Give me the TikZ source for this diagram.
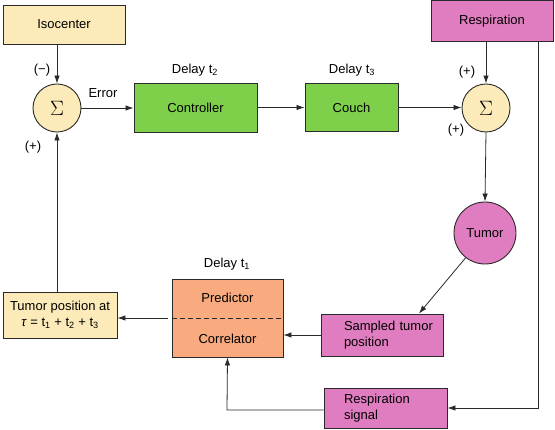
\documentclass[tikz,border=0pt]{standalone}
\usepackage{fontspec}
\setmainfont{Liberation Sans}
\usetikzlibrary{arrows.meta,calc}
\definecolor{cyel}{HTML}{FCEBB8}
\definecolor{cgreen}{HTML}{7ED04B}
\definecolor{cpink}{HTML}{E07DC0}
\definecolor{corange}{HTML}{F9AA7E}
\definecolor{cline}{HTML}{2A2A2A}
\tikzset{
  box/.style={draw=cline, line width=0.9pt, inner sep=0pt, font=\fontsize{13}{15.5}\selectfont},
  sumnode/.style={circle, draw=cline, line width=0.9pt, fill=cyel, minimum size=48pt, inner sep=0pt, font=\fontsize{20}{22}\selectfont},
  lbl/.style={inner sep=0pt, font=\fontsize{13}{15.5}\selectfont},
  conn/.style={draw=cline, line width=0.8pt},
  arr/.style={conn, -{Latex[length=8pt,width=5.5pt]}},
}
\begin{document}
\begin{tikzpicture}[x=1pt,y=-1pt]
\useasboundingbox (0,0) rectangle (555,430);
\fill[white] (0,0) rectangle (555,430);

\node[box, fill=cyel, minimum width=122pt, minimum height=39pt] (iso) at (64,24.5) {Isocenter};
\node[sumnode] (s1) at (57,108) {$\Sigma$};
\node[box, fill=cgreen, minimum width=123pt, minimum height=49pt] (ctrl) at (195.5,107.5) {Controller};
\node[box, fill=cgreen, minimum width=93pt, minimum height=48pt] (couch) at (351.5,107.5) {Couch};
\node[sumnode] (s2) at (486,108) {$\Sigma$};
\node[box, fill=cpink, minimum width=122pt, minimum height=41pt] (resp) at (492,21) {Respiration};
\node[box, circle, fill=cpink, minimum size=62pt] (tumor) at (485,233) {Tumor};
\node[box, fill=cpink, text width=122pt, minimum height=42pt, align=left] (samp) at (382,335)
  {\hspace*{23pt}Sampled tumor\\\hspace*{23pt}position};
\node[box, fill=cpink, text width=123pt, minimum height=40pt, align=left] (rsig) at (385.5,408)
  {\hspace*{20pt}Respiration\\\hspace*{20pt}signal};
\node[box, fill=corange, minimum width=111pt, minimum height=78pt] (pc) at (227.5,318) {};
\node[lbl] (pred) at (227.5,298) {Predictor};
\node[lbl] (corr) at (227.5,339) {Correlator};
\draw[cline, line width=0.8pt, dashed, dash pattern=on 5pt off 3pt] (pc.west) -- (pc.east);
\node[box, fill=cyel, minimum width=114pt, minimum height=46pt, align=center] (tpos) at (60,315)
  {Tumor position at\\\textit{τ} = t\textsubscript{1} + t\textsubscript{2} + t\textsubscript{3}};

% labels
\node[lbl] (lm) at (42,70) {(−)};
\node[lbl] (lp1) at (33,147) {(+)};
\node[lbl] (lerr) at (103,93) {Error};
\node[lbl] (ld2) at (195,70) {Delay t\textsubscript{2}};
\node[lbl] (ld3) at (352,70) {Delay t\textsubscript{3}};
\node[lbl] (lp2) at (467,72) {(+)};
\node[lbl] (lp3) at (456,130) {(+)};
\node[lbl] (ld1) at (227,264) {Delay t\textsubscript{1}};

% connectors
\coordinate (rc1) at (538,408);
\coordinate (rc2) at (227,410);
\draw[arr] (iso.south -| s1.north) -- (s1.north);
\draw[arr] (s1.east) -- (ctrl.west |- s1.east);
\draw[arr] (ctrl.east) -- (couch.west);
\draw[arr] (couch.east) -- (s2.west |- couch.east);
\draw[arr] (resp.south -| s2.north) -- (s2.north);
\draw[arr] (s2.south) -- (tumor.north);
\draw[arr] (tumor.232) -- ([xshift=37pt]samp.north);
\draw[arr] (samp.west) -- (pc.east |- samp.west);
\draw[arr] (resp.south -| rc1) -- (rc1) -- (rsig.east |- rc1);
\draw[arr] (rsig.west |- rc2) -- (rc2) -- (pc.south);
\draw[arr] ([xshift=-4pt]pc.west) -- (tpos.east |- pc.west);
\draw[arr] (tpos.north -| s1.south) -- (s1.south);
\end{tikzpicture}
\end{document}
